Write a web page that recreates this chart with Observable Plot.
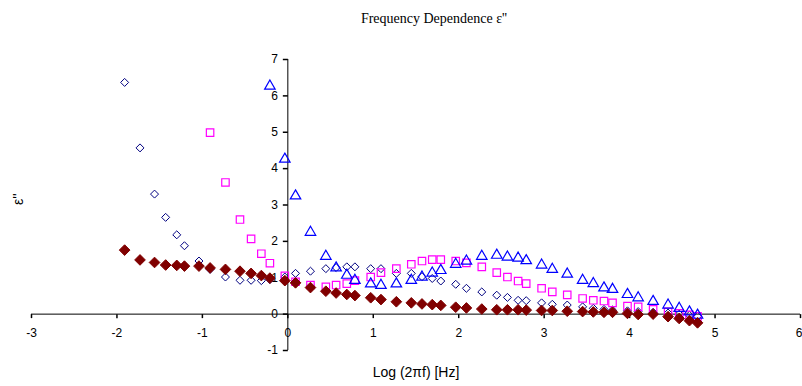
<!DOCTYPE html>
<html><head><meta charset="utf-8">
<script src="https://cdn.jsdelivr.net/npm/d3@7"></script>
<script src="https://cdn.jsdelivr.net/npm/@observablehq/plot@0.6"></script>
<style>
body{margin:0;background:#fff;}
#wrap{width:802px;}
#title{height:40px;position:relative;font-family:"Liberation Serif","Times New Roman",serif;font-size:14px;color:#000;}
#title span{position:absolute;left:434px;top:19px;transform:translate(-50%,-50%);white-space:nowrap;}
</style></head><body>
<div id="wrap"><div id="title"><span>Frequency Dependence ε''</span></div><div id="chart"></div></div>
<script>
// log10(2πf) grid shared by all series
const logF = [-1.91, -1.73, -1.56, -1.43, -1.30, -1.21, -1.04, -0.91, -0.73, -0.56,
  -0.43, -0.31, -0.21, -0.035, 0.09, 0.265, 0.445, 0.565, 0.69, 0.785,
  0.97, 1.09, 1.27, 1.445, 1.57, 1.69, 1.79, 1.965, 2.09, 2.27,
  2.445, 2.57, 2.695, 2.79, 2.97, 3.095, 3.27, 3.45, 3.575, 3.70,
  3.80, 3.975, 4.10, 4.275, 4.45, 4.58, 4.70, 4.795];
// open navy diamonds (starts at logF[0])
const epsA = [6.37, 4.57, 3.30, 2.66, 2.18, 1.88, 1.46, 1.23, 1.02, 0.93,
  0.93, 0.92, 0.95, 1.02, 1.12, 1.18, 1.25, 1.28, 1.30, 1.30,
  1.25, 1.25, 1.12, 1.12, 1.03, 0.98, 0.91, 0.82, 0.71, 0.61,
  0.52, 0.46, 0.38, 0.37, 0.31, 0.27, 0.25, 0.20, 0.16, 0.13,
  0.11, 0.09, 0.07, 0.05, 0.03, 0.00, -0.03, -0.06];
// open magenta squares (starts at logF[7])
const epsB = [4.99, 3.62, 2.60, 2.07, 1.66, 1.40, 1.05, 0.89, 0.80, 0.75,
  0.80, 0.84, 0.92, 1.02, 1.14, 1.25, 1.37, 1.46, 1.50, 1.50,
  1.46, 1.41, 1.30, 1.14, 1.02, 0.91, 0.84, 0.71, 0.61, 0.53,
  0.43, 0.38, 0.36, 0.31, 0.22, 0.20, 0.13, 0.06, 0.02, -0.02,
  -0.06];
const startB = 7;
// open blue triangles (starts at logF[12])
const epsC = [6.27, 4.26, 3.25, 2.25, 1.59, 1.27, 1.07, 0.93, 0.83, 0.79,
  0.83, 0.93, 1.02, 1.13, 1.20, 1.37, 1.46, 1.59, 1.62, 1.57,
  1.54, 1.47, 1.35, 1.23, 1.10, 0.93, 0.84, 0.72, 0.68, 0.54,
  0.45, 0.35, 0.25, 0.16, 0.06, -0.03];
const startC = 12;
// filled dark red diamonds (starts at logF[0])
const epsD = [1.76, 1.49, 1.42, 1.35, 1.34, 1.32, 1.32, 1.27, 1.23, 1.18,
  1.12, 1.06, 0.99, 0.92, 0.86, 0.73, 0.63, 0.58, 0.54, 0.51,
  0.45, 0.40, 0.34, 0.31, 0.28, 0.26, 0.24, 0.19, 0.17, 0.14,
  0.12, 0.12, 0.12, 0.11, 0.10, 0.10, 0.08, 0.07, 0.06, 0.05,
  0.05, 0.02, -0.01, 0.00, -0.07, -0.12, -0.18, -0.24];

const xTicks = [-3, -2, -1, 0, 1, 2, 3, 4, 5, 6];
const yTicks = [-1, 0, 1, 2, 3, 4, 5, 6, 7];
const xTitle = "Log (2πf) [Hz]";
const yTitle = "ε''";

const rowsA = epsA.map((y, i) => ({x: logF[i], y}));
const rowsB = epsB.map((y, i) => ({x: logF[i + startB], y}));
const rowsC = epsC.map((y, i) => ({x: logF[i + startC], y}));
const rowsD = epsD.map((y, i) => ({x: logF[i], y}));

const tickDown = {draw(ctx) { ctx.moveTo(0, 0); ctx.lineTo(0, 4); }};
const tickLeft = {draw(ctx) { ctx.moveTo(0, 0); ctx.lineTo(-5, 0); }};
const lastX = xTicks[xTicks.length - 1];

const chart = Plot.plot({
  width: 802, height: 346,
  marginLeft: 31, marginRight: 2, marginTop: 19, marginBottom: 36,
  style: {fontFamily: "'Liberation Sans', Arial, sans-serif", fontSize: "12px", background: "#fff", color: "#000"},
  x: {domain: [-3, 6], axis: null},
  y: {domain: [-1, 7], axis: null},
  marks: [
    Plot.ruleY([0], {stroke: "#000"}),
    Plot.ruleX([0], {y1: -1, y2: 7, stroke: "#000"}),
    Plot.dot(xTicks, {x: d => d, y: 0, symbol: tickDown, stroke: "#000", fill: "none"}),
    Plot.dot(yTicks, {x: 0, y: d => d, symbol: tickLeft, stroke: "#000", fill: "none"}),
    Plot.text(xTicks.filter(d => d !== lastX), {x: d => d, y: 0, text: d => String(d), dy: 19, fill: "#000", fontSize: 12}),
    Plot.text([lastX], {x: d => d, y: 0, text: d => String(d), dy: 19, dx: 2, textAnchor: "end", fill: "#000", fontSize: 12}),
    Plot.text(yTicks, {x: 0, y: d => d, text: d => String(d), dx: -10, textAnchor: "end", fill: "#000", fontSize: 12}),
    Plot.text([xTitle], {frameAnchor: "bottom", dy: 26, fill: "#000", fontSize: 14}),
    Plot.text([yTitle], {frameAnchor: "left", dx: -13, rotate: -90, fill: "#000", fontSize: 14}),
    Plot.dot(rowsA, {x: "x", y: "y", symbol: "diamond2", r: 3.6, stroke: "#000080", fill: "none", strokeWidth: 1}),
    Plot.dot(rowsB, {x: "x", y: "y", symbol: "square", r: 4.2, stroke: "#FF00FF", fill: "none", strokeWidth: 1.2}),
    Plot.dot(rowsC, {x: "x", y: "y", symbol: "triangle", r: 3.9, stroke: "#0000FF", fill: "none", strokeWidth: 1.2}),
    Plot.dot(rowsD, {x: "x", y: "y", symbol: "diamond2", r: 4.8, stroke: "#800000", fill: "#800000", strokeWidth: 1})
  ]
});
document.getElementById("chart").appendChild(chart);
</script>
</body></html>
